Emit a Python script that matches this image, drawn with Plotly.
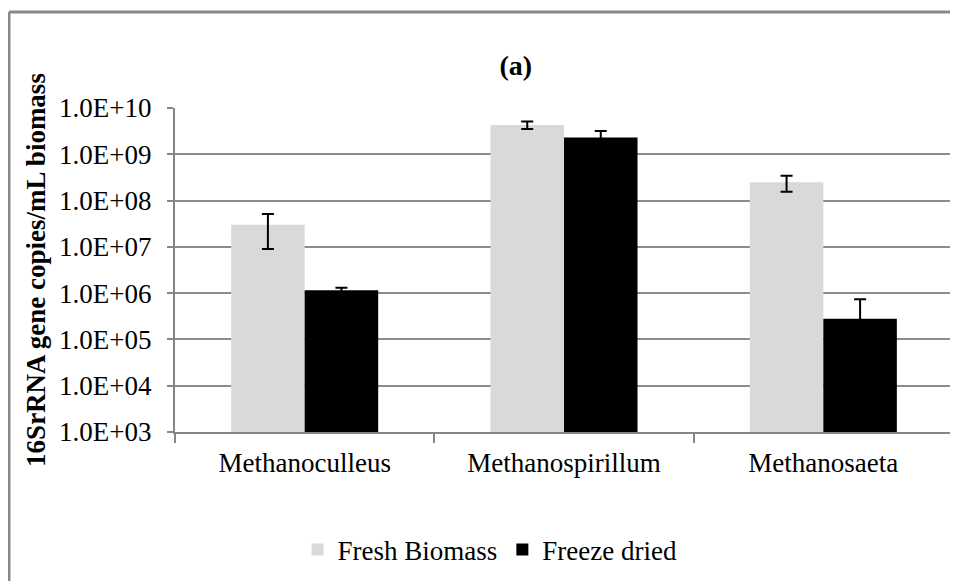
import plotly.graph_objects as go

categories = ["Methanoculleus", "Methanospirillum", "Methanosaeta"]
fresh = [3.0e7, 4.3e9, 2.5e8]
fresh_err = [2.1e7, 0.8e9, 0.95e8]
dried = [1.15e6, 2.3e9, 2.8e5]
dried_err = [0.15e6, 0.9e9, 4.6e5]

tick_vals = [1e3, 1e4, 1e5, 1e6, 1e7, 1e8, 1e9, 1e10]
tick_text = ["1.0E+03", "1.0E+04", "1.0E+05", "1.0E+06",
             "1.0E+07", "1.0E+08", "1.0E+09", "1.0E+10"]

serif = "Liberation Serif"

fig = go.Figure()
fig.add_bar(
    x=categories, y=fresh, name="Fresh Biomass",
    marker=dict(color="#d9d9d9", line=dict(width=0)),
    error_y=dict(type="data", array=fresh_err, color="black", thickness=2, width=6),
)
fig.add_bar(
    x=categories, y=dried, name="Freeze dried",
    marker=dict(color="black", line=dict(width=0)),
    error_y=dict(type="data", array=dried_err, color="black", thickness=2, width=6),
)

# page has an 8px body margin, so the figure is drawn 8px right/down
fig.update_layout(
    width=950,
    height=573,
    margin=dict(l=167, r=5, t=100, b=149),
    paper_bgcolor="white",
    plot_bgcolor="white",
    barmode="group",
    bargap=0.433,
    bargroupgap=0,
    font=dict(family=serif, size=27, color="black"),
    title=dict(
        text="<b>(a)</b>", x=0.438, xref="paper", xanchor="center",
        y=1 - 57 / 573, yanchor="middle",
        font=dict(family=serif, size=28, color="black"),
    ),
    legend=dict(
        orientation="h", x=0.405, xanchor="center", y=-0.364, yanchor="middle",
        font=dict(family=serif, size=27, color="black"),
        itemwidth=30, traceorder="normal",
    ),
    showlegend=True,
)

fig.update_xaxes(
    showline=True, linecolor="#868686", linewidth=2,
    ticks="outside", tickson="boundaries", ticklen=9, tickcolor="#868686", tickwidth=2,
    tickfont=dict(family=serif, size=27, color="black"),
    ticklabelstandoff=6,
    showgrid=False,
)
fig.update_yaxes(
    type="log", range=[3, 10],
    tickvals=tick_vals, ticktext=tick_text,
    tickfont=dict(family=serif, size=27, color="black"),
    ticklabelstandoff=10,
    showline=True, linecolor="#868686", linewidth=2,
    ticks="outside", ticklen=6, tickcolor="#868686", tickwidth=2,
    showgrid=True, gridcolor="#8c8c8c", gridwidth=2,
    zeroline=False,
    title=dict(text="<b>16SrRNA gene copies/mL biomass</b>", standoff=6,
               font=dict(family=serif, size=27, color="black")),
)

# outer chart frame: only the top and left edges are inside the picture
frame_x = (1 - 167) / 778
frame_y = (424 - 4) / 324
fig.add_shape(type="line", xref="paper", yref="paper",
              x0=frame_x, x1=1.05, y0=frame_y, y1=frame_y,
              line=dict(color="#888888", width=3), layer="below")
fig.add_shape(type="line", xref="paper", yref="paper",
              x0=frame_x, x1=frame_x, y0=-0.6, y1=frame_y,
              line=dict(color="#888888", width=3), layer="below")

fig.write_html("out.html", config={"displayModeBar": False})
